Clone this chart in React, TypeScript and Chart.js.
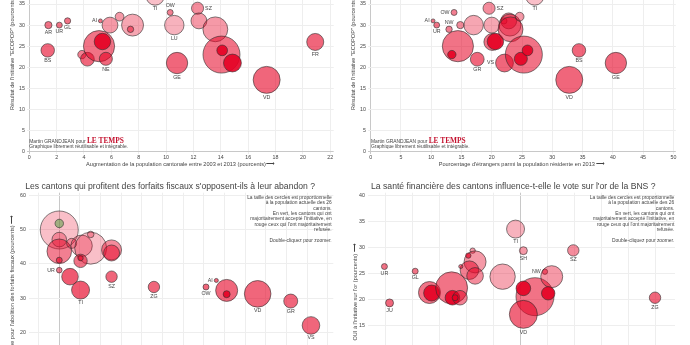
import React, { useEffect, useRef } from 'react';
import { Chart, registerables } from 'chart.js';

Chart.register(...registerables);

const FONT = '"Liberation Sans", Arial, sans-serif';
const TEXT = '#444444';

// ---------------- shared canton data ----------------
// Resident population 2013 (thousands)
const cantonPopulation: Record<string, number> = {
  ZH: 1409, BE: 1001, VD: 749, AG: 636, SG: 496, GE: 469, LU: 390, TI: 347, VS: 327,
  FR: 298, BL: 279, TG: 260, SO: 259, GR: 195, BS: 187, NE: 176, SZ: 151, ZG: 118,
  SH: 79, JU: 72, AR: 54, NW: 42, GL: 40, OW: 37, UR: 36, AI: 16,
};
const largestPopulation = 1409;

// ECOPOP "yes" share per canton (%)
const ecopopYes: Record<string, number> = {
  AR: 30, UR: 30, GL: 31, BS: 24, AI: 31, JU: 23, GR: 21.9, BE: 25, BL: 26.1, NE: 22,
  SO: 30, SH: 32, SG: 30, NW: 29, TI: 36.9, OW: 33, LU: 30, GE: 21, SZ: 34, TG: 31,
  AG: 29, ZH: 23, ZG: 24, VS: 21, VD: 17, FR: 26,
};

// ---------------- chart 1: growth 2003-2013 vs ECOPOP ----------------
const growthCantons = ['AR', 'UR', 'GL', 'BS', 'AI', 'JU', 'GR', 'BE', 'BL', 'NE', 'SO', 'SH', 'SG', 'NW', 'TI', 'OW', 'LU', 'GE', 'SZ', 'TG', 'AG', 'ZH', 'ZG', 'VS', 'VD', 'FR'];
const growthPercent = [1.4, 2.2, 2.8, 1.35, 5.2, 3.85, 4.25, 5.1, 5.35, 5.6, 5.9, 6.6, 7.55, 7.4, 9.2, 10.3, 10.6, 10.8, 12.3, 12.4, 13.6, 14.05, 14.1, 14.85, 17.35, 20.9];
const growthOpacity = [0.55, 0.55, 0.55, 0.6, 0.55, 0.5, 0.6, 0.55, 0.9, 0.6, 0.4, 0.4, 0.35, 0.5, 0.25, 0.5, 0.3, 0.6, 0.45, 0.4, 0.4, 0.55, 0.9, 0.9, 0.6, 0.6];
const growthLabels: Record<string, string> = {
  AR: 'bottom', UR: 'bottom', GL: 'bottom', BS: 'bottom', AI: 'left', NE: 'bottom', TI: 'bottom',
  OW: 'top', LU: 'bottom', GE: 'bottom', SZ: 'right', VD: 'bottom', FR: 'bottom',
};

// ---------------- chart 2: foreigners 2013 vs ECOPOP ----------------
const foreignCantons = ['OW', 'AI', 'UR', 'NW', 'AR', 'BE', 'JU', 'GR', 'LU', 'SZ', 'SO', 'FR', 'BL', 'VS', 'GL', 'TG', 'SG', 'AG', 'SH', 'ZH', 'NE', 'ZG', 'TI', 'BS', 'GE', 'VD'];
const foreignPercent = [13.77, 10.3, 10.9, 12.94, 14.8, 14.4, 13.4, 17.6, 17.0, 19.55, 20.0, 20.1, 20.6, 22.1, 22.0, 22.8, 23.0, 23.1, 24.6, 25.3, 24.8, 25.9, 27.1, 34.4, 40.5, 32.8];
const foreignOpacity = [0.5, 0.55, 0.55, 0.5, 0.45, 0.55, 0.9, 0.6, 0.35, 0.45, 0.35, 0.55, 0.9, 0.6, 0.4, 0.5, 0.4, 0.5, 0.4, 0.55, 0.9, 0.9, 0.25, 0.6, 0.6, 0.6];
const foreignLabels: Record<string, string> = {
  OW: 'left', AI: 'left', UR: 'bottom', NW: 'top', SZ: 'right', GR: 'bottom', VS: 'left',
  TI: 'bottom', BS: 'bottom', GE: 'bottom', VD: 'bottom',
};

// ---------------- chart 3: forfaits fiscaux ----------------
const forfaitLabels = ['', '', '', '', '', 'UR', '', 'TI', '', '', '', '', '', '', '', '', 'SZ', 'ZG', 'OW', 'AI', '', '', 'VD', 'GR', 'VS'];
const forfaitX = [0, 0, 0, 0, 0, 0, 0.52, 1.03, 0.6, 1.08, 1.52, 1.52, 1.03, 1.03, 2.53, 2.53, 2.53, 4.58, 7.1, 7.6, 8.1, 8.1, 9.6, 11.2, 12.18];
const forfaitYes = [49.9, 51.8, 47.1, 43.7, 41.1, 38.2, 36.3, 32.4, 46.0, 45.3, 44.6, 48.6, 40.9, 41.7, 44.1, 43.2, 36.3, 33.3, 33.3, 35.2, 32.3, 31.2, 31.3, 29.2, 22.1];
const forfaitPopulation = [1409, 70, 208, 590, 35, 31, 269, 316, 98, 447, 999, 42, 175, 28, 390, 250, 127, 127, 35, 16, 472, 48, 690, 191, 302];
const forfaitOpacity = [0.25, 0.55, 0.3, 0.5, 0.6, 0.5, 0.65, 0.65, 0.3, 0.3, 0.25, 0.3, 0.55, 0.6, 0.45, 0.5, 0.6, 0.6, 0.6, 0.6, 0.6, 0.9, 0.6, 0.6, 0.6];
const forfaitAccepted = [0, 1, 0, 0, 0, 0, 0, 0, 0, 0, 0, 0, 0, 0, 0, 0, 0, 0, 0, 0, 0, 0, 0, 0, 0];
const forfaitLabelSide: Record<string, string> = { UR: 'left', AI: 'left' };

// ---------------- chart 4: finances vs or BNS ----------------
const orLabels = ['UR', 'JU', 'GL', '', '', '', '', '', '', '', '', '', '', '', '', '', 'TI', 'SH', '', '', 'VD', 'NW', '', '', 'SZ', 'ZG'];
const orX = [-5.05, -4.86, -3.91, -3.38, -3.3, -2.56, -2.53, -2.25, -2.43, -1.78, -1.69, -1.94, -1.9, -1.69, -2.22, -0.67, -0.19, 0.1, 0.53, 0.1, 0.1, 0.9, 1.15, 1.02, 1.95, 4.98];
const orYes = [26.3, 19.3, 25.4, 21.3, 21.2, 22.2, 20.3, 20.3, 20.3, 29.35, 27.2, 28.4, 25.6, 24.5, 26.3, 24.35, 33.5, 29.35, 20.5, 22.1, 17.1, 25.3, 24.35, 21.15, 29.4, 20.3];
const orPopulation = [35, 62, 35, 472, 250, 999, 208, 208, 35, 28, 472, 28, 337, 269, 16, 630, 316, 62, 1409, 208, 765, 28, 472, 175, 127, 127];
const orOpacity = [0.55, 0.6, 0.55, 0.55, 0.9, 0.55, 0.9, 0.5, 0.9, 0.4, 0.4, 0.7, 0.5, 0.45, 0.5, 0.35, 0.3, 0.4, 0.55, 0.9, 0.6, 0.5, 0.4, 0.9, 0.45, 0.6];
const orLabelSide: Record<string, string> = { NW: 'left' };

const noteLines = [
  'La taille des cercles est proportionnelle',
  'à la population actuelle des 26',
  'cantons.',
  'En vert, les cantons qui ont',
  'majoritairement accepté l\'initiative, en',
  'rouge ceux qui l\'ont majoritairement',
  'refusée.',
  '',
  'Double-cliquez pour zoomer.',
];

// ---------------- helpers ----------------
type Pt = { x: number; y: number; pop: number; alpha: number; label: string; side: string; accepted: boolean };

function topPoints(cantons: string[], xs: number[], opac: number[], labels: Record<string, string>): Pt[] {
  return cantons.map((c, i) => ({
    x: xs[i], y: ecopopYes[c], pop: cantonPopulation[c], alpha: opac[i],
    label: labels[c] ? c : '', side: labels[c] || 'bottom', accepted: false,
  }));
}

function bottomPoints(labels: string[], xs: number[], ys: number[], pops: number[], opac: number[], sides: Record<string, string>, acc?: number[]): Pt[] {
  return xs.map((x, i) => ({
    x, y: ys[i], pop: pops[i], alpha: opac[i], label: labels[i],
    side: sides[labels[i]] || 'bottom', accepted: acc ? acc[i] === 1 : false,
  }));
}

type Spec = {
  key: string; left: number; top: number; width: number; height: number;
  padLeft: number; yAxisWidth: number; xAxisHeight: number; padRight: number;
  xMin: number; xMax: number; xStep: number; xTitle: string | null;
  yMin: number; yMax: number; yStep: number; yTitle: string;
  yTickPad: number; yTitlePad: number; xTickPad: number; xTitlePad: number;
  title: string | null; maxRadius: number; points: Pt[];
};

const Y_TITLE_ECOPOP = 'Résultat de l\'initiative "ECOPOP" (pourcents) ⟶';

const specs: Spec[] = [
  {
    key: 'growth', left: 0, top: -56, width: 345, height: 228,
    padLeft: 0, yAxisWidth: 27.2, xAxisHeight: 18.4, padRight: 11.3,
    xMin: -0.15, xMax: 22.25, xStep: 2,
    xTitle: 'Augmentation de la population cantonale entre 2003 et 2013 (pourcents)⟶',
    yMin: -0.5, yMax: 49.25, yStep: 5, yTitle: Y_TITLE_ECOPOP,
    yTickPad: 2.2, yTitlePad: 9.34, xTickPad: 0.5, xTitlePad: 4.34,
    title: null, maxRadius: 18.5,
    points: topPoints(growthCantons, growthPercent, growthOpacity, growthLabels),
  },
  {
    key: 'foreign', left: 345, top: -56, width: 345, height: 228,
    padLeft: 0, yAxisWidth: 23.3, xAxisHeight: 18.4, padRight: 14.2,
    xMin: -0.4, xMax: 50.4, xStep: 5,
    xTitle: 'Pourcentage d\'étrangers parmi la population résidente en 2013 ⟶',
    yMin: -0.5, yMax: 49.25, yStep: 5, yTitle: Y_TITLE_ECOPOP,
    yTickPad: 2.3, yTitlePad: 4.94, xTickPad: 0.5, xTitlePad: 4.34,
    title: null, maxRadius: 18.5,
    points: topPoints(foreignCantons, foreignPercent, foreignOpacity, foreignLabels),
  },
  {
    key: 'forfaits', left: 0, top: 172, width: 345, height: 240,
    padLeft: 7, yAxisWidth: 22.3, xAxisHeight: 10.7, padRight: 11.7,
    xMin: -1.45, xMax: 13.26, xStep: 1, xTitle: null,
    yMin: 0, yMax: 60.76, yStep: 10,
    yTitle: 'OUI à l\'initiative pour l\'abolition des forfaits fiscaux (pourcents) ⟶',
    yTickPad: 3.3, yTitlePad: 2.34, xTickPad: 0.5, xTitlePad: 0,
    title: 'Les cantons qui profitent des forfaits fiscaux s\'opposent-ils à leur abandon ?',
    maxRadius: 19,
    points: bottomPoints(forfaitLabels, forfaitX, forfaitYes, forfaitPopulation, forfaitOpacity, forfaitLabelSide, forfaitAccepted),
  },
  {
    key: 'or', left: 345, top: 172, width: 345, height: 240,
    padLeft: 6.6, yAxisWidth: 16.1, xAxisHeight: 20.7, padRight: 15,
    xMin: -5.67, xMax: 5.72, xStep: 1, xTitle: null,
    yMin: 2.3, yMax: 40.5, yStep: 5,
    yTitle: 'OUI à l\'initiative sur l\'or (pourcents) ⟶',
    yTickPad: 2.7, yTitlePad: 0.04, xTickPad: 0.5, xTitlePad: 0,
    title: 'La santé financière des cantons influence-t-elle le vote sur l\'or de la BNS ?',
    maxRadius: 19,
    points: bottomPoints(orLabels, orX, orYes, orPopulation, orOpacity, orLabelSide),
  },
];

function fillColor(p: Pt) {
  return p.accepted ? `rgba(90,160,70,${p.alpha})` : `rgba(230,0,35,${p.alpha})`;
}

function gridColor(c: any) {
  return c.tick && c.tick.value === 0 ? '#c8c8c8' : '#eeeeee';
}

function labelPlugin(spec: Spec) {
  return {
    id: 'cantonLabels',
    afterDatasetsDraw(chart: any) {
      const ctx = chart.ctx;
      const meta = chart.getDatasetMeta(0);
      ctx.save();
      ctx.font = `5.3px ${FONT}`;
      ctx.fillStyle = TEXT;
      ctx.textBaseline = 'middle';
      meta.data.forEach((el: any, i: number) => {
        const p = spec.points[i];
        if (!p.label) return;
        const r = el.options.radius;
        let x = el.x;
        let y = el.y;
        if (p.side === 'left') { ctx.textAlign = 'right'; x -= r + 1.5; }
        else if (p.side === 'right') { ctx.textAlign = 'left'; x += r + 1.5; }
        else if (p.side === 'top') { ctx.textAlign = 'center'; y -= r + 3.8; }
        else { ctx.textAlign = 'center'; y += r + 3.8; }
        ctx.fillText(p.label, x, y);
      });
      ctx.restore();
    },
  };
}

function buildConfig(spec: Spec): any {
  const tickFont = { family: FONT, size: 5.3 };
  const axisTitleFont = { family: FONT, size: 5.6 };
  return {
    type: 'bubble',
    data: {
      datasets: [{
        data: spec.points.map((p) => ({ x: p.x, y: p.y, r: spec.maxRadius * Math.sqrt(p.pop / largestPopulation) })),
        backgroundColor: spec.points.map(fillColor),
        borderColor: 'rgba(45,45,45,0.75)',
        borderWidth: 0.8,
        clip: false,
      }],
    },
    options: {
      responsive: false,
      animation: false,
      events: [],
      layout: { padding: { left: spec.padLeft, top: 0, right: spec.padRight, bottom: 0 }, autoPadding: false },
      plugins: {
        legend: { display: false },
        tooltip: { enabled: false },
        title: spec.title
          ? { display: true, text: spec.title, color: TEXT, font: { family: FONT, size: 8.65, weight: 'normal' }, padding: { top: 9.8, bottom: 0.52 } }
          : { display: false },
      },
      scales: {
        x: {
          type: 'linear', min: spec.xMin, max: spec.xMax,
          border: { display: false },
          grid: { color: gridColor, drawTicks: false, lineWidth: 1 },
          ticks: { stepSize: spec.xStep, maxTicksLimit: 1000, includeBounds: false, autoSkip: false, maxRotation: 0, padding: spec.xTickPad, color: TEXT, font: tickFont },
          title: { display: !!spec.xTitle, text: spec.xTitle || '', color: TEXT, font: axisTitleFont, padding: { top: 0, bottom: spec.xTitlePad } },
          afterFit: (s: any) => { s.height = spec.xAxisHeight; s.paddingLeft = 0; s.paddingRight = 0; s.paddingTop = 0; s.paddingBottom = 0; },
        },
        y: {
          type: 'linear', min: spec.yMin, max: spec.yMax,
          border: { display: false },
          grid: { color: gridColor, drawTicks: false, lineWidth: 1 },
          ticks: { stepSize: spec.yStep, maxTicksLimit: 1000, includeBounds: false, autoSkip: false, padding: spec.yTickPad, color: TEXT, font: tickFont },
          title: { display: true, text: spec.yTitle, color: TEXT, font: axisTitleFont, padding: { top: spec.yTitlePad, bottom: 0 } },
          afterFit: (s: any) => { s.width = spec.yAxisWidth; s.paddingLeft = 0; s.paddingRight = 0; s.paddingTop = 0; s.paddingBottom = 0; },
        },
      },
    },
    plugins: [labelPlugin(spec)],
  };
}

function Panel({ spec }: { spec: Spec }) {
  const ref = useRef<HTMLCanvasElement>(null);
  useEffect(() => {
    const chart = new Chart(ref.current as HTMLCanvasElement, buildConfig(spec));
    return () => chart.destroy();
  }, [spec]);
  return (
    <canvas
      ref={ref}
      width={spec.width}
      height={spec.height}
      style={{ position: 'absolute', left: spec.left, top: spec.top, width: spec.width, height: spec.height }}
    />
  );
}

function Credit({ left, top }: { left: number; top: number }) {
  return (
    <div style={{ position: 'absolute', left, top, fontFamily: FONT, fontSize: 4.9, lineHeight: '5.3px', color: TEXT, whiteSpace: 'nowrap' }}>
      <div>
        Martin GRANDJEAN pour{' '}
        <span style={{ fontFamily: '"Liberation Serif", "Times New Roman", serif', fontSize: 7.4, color: '#c4122f', fontWeight: 'bold' }}>LE TEMPS</span>
      </div>
      <div>Graphique librement réutilisable et intégrable.</div>
    </div>
  );
}

function Note({ right, top }: { right: number; top: number }) {
  return (
    <div style={{ position: 'absolute', right, top, textAlign: 'right', fontFamily: FONT, fontSize: 4.9, lineHeight: '5.35px', color: TEXT, whiteSpace: 'nowrap' }}>
      {noteLines.map((l, i) => (
        <div key={i} style={{ height: '5.35px' }}>{l}</div>
      ))}
    </div>
  );
}

export default function App() {
  return (
    <div style={{ position: 'fixed', left: 0, top: 0, width: 690, height: 345, overflow: 'hidden', background: '#ffffff' }}>
      {specs.map((s) => (
        <Panel key={s.key} spec={s} />
      ))}
      <Credit left={29.3} top={138} />
      <Credit left={371} top={138} />
      <Note right={358.3} top={195} />
      <Note right={15.7} top={195} />
    </div>
  );
}
